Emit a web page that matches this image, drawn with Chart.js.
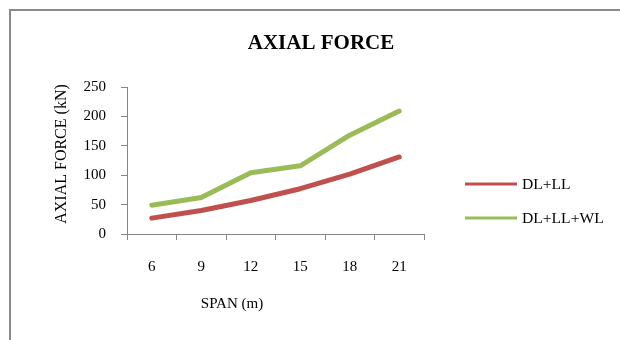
<!DOCTYPE html>
<html>
<head>
<meta charset="utf-8">
<style>
  html, body { margin: 0; padding: 0; background: #fff; }
  #wrap { width: 620px; height: 340px; position: relative; }
</style>
<script src="https://cdn.jsdelivr.net/npm/chart.js@4/dist/chart.umd.min.js"></script>
</head>
<body>
<div id="wrap"><canvas id="c" width="620" height="340"></canvas></div>
<script>
// Span of the frame (m)
const spans = ['6', '9', '12', '15', '18', '21'];
// Axial force (kN) for each load combination
const dlLl = [27, 40, 57, 77, 102, 131];
const dlLlWl = [49, 62, 104, 116, 168, 209];
const seriesNames = ['DL+LL', 'DL+LL+WL'];
const yTicks = [0, 50, 100, 150, 200, 250];

const SERIF = "'Liberation Serif', 'Times New Roman', serif";
const AXIS_GREY = '#868686';

// Outer frame, title, axis titles and legend
const decor = {
  id: 'decor',
  beforeDraw(chart) {
    const ctx = chart.ctx;
    ctx.save();
    ctx.fillStyle = '#fff';
    ctx.fillRect(0, 0, chart.width, chart.height);
    ctx.strokeStyle = '#8a8a8a';
    ctx.lineWidth = 2;
    ctx.strokeRect(10, 10, 700, 400);
    ctx.restore();
  },
  afterDraw(chart) {
    const ctx = chart.ctx;
    ctx.save();
    ctx.fillStyle = '#000';
    ctx.textAlign = 'center';
    ctx.textBaseline = 'middle';
    ctx.font = 'bold 21px ' + SERIF;
    ctx.fillText('AXIAL FORCE', 321, 44);

    ctx.font = '15px ' + SERIF;
    ctx.fillText('SPAN (m)', 232, 304);

    ctx.save();
    ctx.font = '16px ' + SERIF;
    ctx.translate(62, 154);
    ctx.rotate(-Math.PI / 2);
    ctx.fillText('AXIAL FORCE (kN)', 0, 0);
    ctx.restore();

    // legend
    ctx.textAlign = 'left';
    ctx.font = '15.6px ' + SERIF;
    chart.data.datasets.forEach((ds, i) => {
      const y = 184 + i * 34;
      ctx.strokeStyle = ds.borderColor;
      ctx.lineWidth = 3;
      ctx.beginPath();
      ctx.moveTo(465, y);
      ctx.lineTo(517, y);
      ctx.stroke();
      ctx.fillStyle = '#000';
      ctx.fillText(ds.label, 522, y + 1);
    });
    ctx.restore();
  }
};

new Chart(document.getElementById('c'), {
  type: 'line',
  data: {
    labels: spans,
    datasets: [
      {
        label: seriesNames[0],
        data: dlLl,
        borderColor: '#C0504D',
        borderWidth: 5,
        borderCapStyle: 'round',
        borderJoinStyle: 'round',
        pointRadius: 0,
        tension: 0
      },
      {
        label: seriesNames[1],
        data: dlLlWl,
        borderColor: '#9BBB59',
        borderWidth: 5,
        borderCapStyle: 'round',
        borderJoinStyle: 'round',
        pointRadius: 0,
        tension: 0
      }
    ]
  },
  options: {
    responsive: false,
    animation: false,
    devicePixelRatio: 1,
    layout: { padding: { left: 10, top: 87, right: 196, bottom: 0 } },
    plugins: {
      legend: { display: false },
      title: { display: false },
      tooltip: { enabled: false }
    },
    scales: {
      x: {
        type: 'category',
        offset: true,
        afterFit(scale) { scale.height = 106; },
        border: { display: true, color: AXIS_GREY, width: 1 },
        grid: {
          offset: true,
          drawOnChartArea: false,
          drawTicks: true,
          tickLength: 6,
          color: AXIS_GREY
        },
        ticks: {
          color: '#000',
          font: { family: SERIF, size: 15 },
          padding: 18,
          maxRotation: 0
        }
      },
      y: {
        min: 0,
        max: 250,
        afterFit(scale) { scale.width = 117; },
        afterBuildTicks(scale) { scale.ticks = yTicks.map(v => ({ value: v })); },
        border: { display: true, color: AXIS_GREY, width: 1 },
        grid: {
          drawOnChartArea: false,
          drawTicks: true,
          tickLength: 6,
          color: AXIS_GREY
        },
        ticks: {
          color: '#000',
          font: { family: SERIF, size: 15 },
          padding: 15
        }
      }
    }
  },
  plugins: [decor]
});
</script>
</body>
</html>
